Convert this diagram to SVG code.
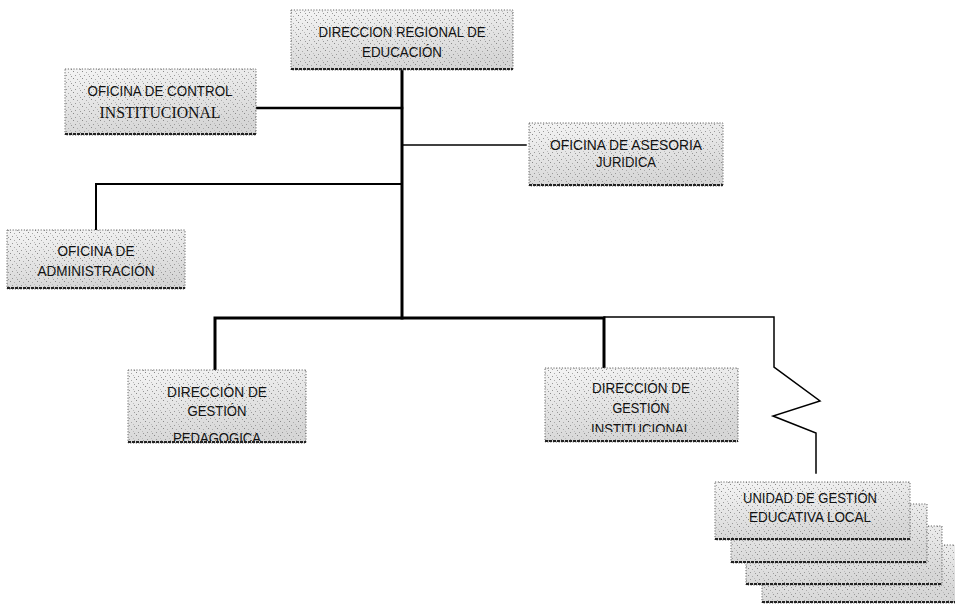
<svg xmlns="http://www.w3.org/2000/svg" width="955" height="605" viewBox="0 0 955 605">
<style>
.bx{fill:url(#g);}
.sp{fill:url(#speck);}
.bd{fill:none;stroke:#666;stroke-width:1;stroke-dasharray:1.2 1.6;}
.bb{fill:none;stroke:#222;stroke-width:2;stroke-dasharray:3 1;}
.t{font-family:"Liberation Sans",Arial,sans-serif;font-size:15.5px;fill:#111;}
.ts{font-family:"Liberation Serif","Times New Roman",serif;font-size:16px;fill:#111;}
.c{fill:none;stroke:#000;stroke-linecap:square;}
</style>
<defs>
<linearGradient id="g" x1="0" y1="0" x2="0.3" y2="1">
<stop offset="0" stop-color="#f4f4f4"/>
<stop offset="1" stop-color="#d6d6d6"/>
</linearGradient>
<pattern id="speck" width="9" height="7" patternUnits="userSpaceOnUse">
<rect x="1" y="1" width="1" height="1" fill="#888"/>
<rect x="5" y="2" width="1" height="1" fill="#aaa"/>
<rect x="3" y="5" width="1" height="1" fill="#999"/>
<rect x="7" y="4" width="1" height="1" fill="#bbb"/>
<rect x="8" y="6" width="1" height="1" fill="#999"/>
</pattern>
<clipPath id="cp1"><rect x="128" y="370" width="178" height="71"/></clipPath>
<clipPath id="cp2"><rect x="545" y="368" width="193" height="64"/></clipPath>
</defs>

<g id="connectors">
<line class="c" x1="402" y1="70" x2="402" y2="318" stroke-width="3"/>
<line class="c" x1="256" y1="108" x2="402" y2="108" stroke-width="2.5"/>
<line class="c" x1="402" y1="145" x2="526" y2="145" stroke-width="1.5"/>
<polyline class="c" points="96,230 96,184 402,184" stroke-width="2"/>
<polyline class="c" points="215,370 215,318 604,318 604,368" stroke-width="3"/>
<polyline class="c" points="604,317 774,317 774,367 820,401 773,416 816,433 816,473" stroke-width="1.5" stroke-linejoin="miter"/>
</g>

<g id="n-direccion-regional">
<rect class="bx" x="291" y="10" width="222" height="60"/>
<rect class="sp" x="291" y="10" width="222" height="60"/>
<rect class="bd" x="291" y="10" width="222" height="60"/>
<line class="bb" x1="291" y1="69" x2="513" y2="69"/>
<text class="t" x="318.5" y="37" textLength="167" lengthAdjust="spacingAndGlyphs">DIRECCION REGIONAL DE</text>
<text class="t" x="362" y="57" textLength="80" lengthAdjust="spacingAndGlyphs">EDUCACIÓN</text>
</g>

<g id="n-control">
<rect class="bx" x="65" y="69" width="191" height="66"/>
<rect class="sp" x="65" y="69" width="191" height="66"/>
<rect class="bd" x="65" y="69" width="191" height="66"/>
<line class="bb" x1="65" y1="134" x2="256" y2="134"/>
<text class="t" x="87.5" y="96" textLength="145" lengthAdjust="spacingAndGlyphs">OFICINA DE CONTROL</text>
<text class="ts" x="99.5" y="118" textLength="121" lengthAdjust="spacingAndGlyphs">INSTITUCIONAL</text>
</g>

<g id="n-asesoria">
<rect class="bx" x="529" y="123" width="194" height="63"/>
<rect class="sp" x="529" y="123" width="194" height="63"/>
<rect class="bd" x="529" y="123" width="194" height="63"/>
<line class="bb" x1="529" y1="185" x2="723" y2="185"/>
<text class="t" x="550" y="150" textLength="152" lengthAdjust="spacingAndGlyphs">OFICINA DE ASESORIA</text>
<text class="t" x="596" y="167" textLength="60" lengthAdjust="spacingAndGlyphs">JURIDICA</text>
</g>

<g id="n-administracion">
<rect class="bx" x="7" y="230" width="178" height="59"/>
<rect class="sp" x="7" y="230" width="178" height="59"/>
<rect class="bd" x="7" y="230" width="178" height="59"/>
<line class="bb" x1="7" y1="288" x2="185" y2="288"/>
<text class="t" x="57.5" y="256" textLength="77" lengthAdjust="spacingAndGlyphs">OFICINA DE</text>
<text class="t" x="37.5" y="276" textLength="117" lengthAdjust="spacingAndGlyphs">ADMINISTRACIÓN</text>
</g>

<g id="n-pedagogica">
<rect class="bx" x="128" y="370" width="178" height="73"/>
<rect class="sp" x="128" y="370" width="178" height="73"/>
<rect class="bd" x="128" y="370" width="178" height="73"/>
<g clip-path="url(#cp1)">
<text class="t" x="167" y="397" textLength="100" lengthAdjust="spacingAndGlyphs">DIRECCIÓN DE</text>
<text class="t" x="187.5" y="416" textLength="59" lengthAdjust="spacingAndGlyphs">GESTIÓN</text>
<text class="t" x="173" y="443" textLength="88" lengthAdjust="spacingAndGlyphs">PEDAGOGICA</text>
</g>
<line class="bb" x1="128" y1="442" x2="306" y2="442"/>
</g>

<g id="n-institucional">
<rect class="bx" x="545" y="368" width="193" height="74"/>
<rect class="sp" x="545" y="368" width="193" height="74"/>
<rect class="bd" x="545" y="368" width="193" height="74"/>
<g clip-path="url(#cp2)">
<text class="t" x="592" y="393" textLength="98" lengthAdjust="spacingAndGlyphs">DIRECCIÓN DE</text>
<text class="t" x="612.5" y="413" textLength="57" lengthAdjust="spacingAndGlyphs">GESTIÓN</text>
<text class="t" x="591" y="433.5" textLength="100" lengthAdjust="spacingAndGlyphs">INSTITUCIONAL</text>
</g>
<line class="bb" x1="545" y1="441" x2="738" y2="441"/>
</g>

<g id="n-ugel">
<g id="n-ugel-4">
<rect class="bx" x="762" y="545" width="195" height="58"/>
<rect class="sp" x="762" y="545" width="195" height="58"/>
<rect class="bd" x="762" y="545" width="195" height="58"/>
<line class="bb" x1="762" y1="602" x2="955" y2="602"/>
</g>
<g id="n-ugel-3">
<rect class="bx" x="746" y="526" width="196" height="59"/>
<rect class="sp" x="746" y="526" width="196" height="59"/>
<rect class="bd" x="746" y="526" width="196" height="59"/>
<line class="bb" x1="746" y1="584" x2="942" y2="584"/>
</g>
<g id="n-ugel-2">
<rect class="bx" x="731" y="504" width="196" height="59"/>
<rect class="sp" x="731" y="504" width="196" height="59"/>
<rect class="bd" x="731" y="504" width="196" height="59"/>
<line class="bb" x1="731" y1="562" x2="927" y2="562"/>
</g>
<g id="n-ugel-1">
<rect class="bx" x="715" y="482" width="195" height="58"/>
<rect class="sp" x="715" y="482" width="195" height="58"/>
<rect class="bd" x="715" y="482" width="195" height="58"/>
<line class="bb" x1="715" y1="539" x2="910" y2="539"/>
<text class="t" x="743" y="503" textLength="134" lengthAdjust="spacingAndGlyphs">UNIDAD DE GESTIÓN</text>
<text class="t" x="749" y="522" textLength="122" lengthAdjust="spacingAndGlyphs">EDUCATIVA LOCAL</text>
</g>
</g>
</svg>
